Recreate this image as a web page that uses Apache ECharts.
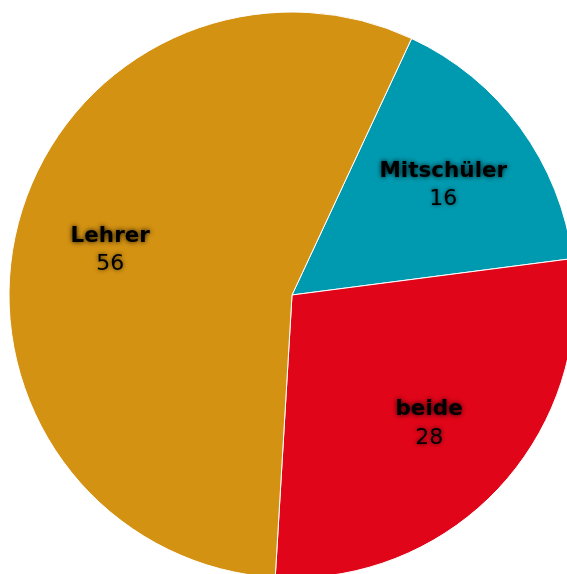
<!DOCTYPE html>
<html>
<head>
<meta charset="utf-8">
<script src="https://cdn.jsdelivr.net/npm/echarts@6/dist/echarts.min.js"></script>
<style>
  html, body { margin: 0; padding: 0; background: #fff; }
  #chart { width: 567px; height: 574px; }
</style>
</head>
<body>
<div id="chart"></div>
<script>
  var categories = ['Mitschüler', 'beide', 'Lehrer'];
  var values = [16, 28, 56];
  var colorList = ['#009AB0', '#E10519', '#D49212'];

  var pieData = [];
  for (var i = 0; i < categories.length; i++) {
    pieData.push({ name: categories[i], value: values[i] });
  }

  var chart = echarts.init(document.getElementById('chart'));
  chart.setOption({
    backgroundColor: '#fff',
    animation: false,
    series: [{
      type: 'pie',
      radius: [0, 283],
      center: [292, 295],
      startAngle: 65,
      clockwise: true,
      color: colorList,
      label: { show: false },
      labelLine: { show: false },
      itemStyle: { borderColor: '#fff', borderWidth: 1 },
      data: pieData
    }, {
      // transparent ring only used to place labels further out
      type: 'pie',
      radius: [86, 283],
      center: [292, 296],
      startAngle: 65,
      clockwise: true,
      silent: true,
      itemStyle: { color: 'rgba(0,0,0,0)', borderWidth: 0 },
      labelLine: { show: false },
      label: {
        show: true,
        position: 'inside',
        formatter: '{n|{b}}\n{v|{c}}',
        rich: {
          n: {
            fontFamily: 'DejaVu Sans',
            fontSize: 21.5,
            fontWeight: 'bold',
            color: '#000',
            lineHeight: 28,
            textShadowColor: 'rgba(0,0,0,0.9)',
            textShadowBlur: 5
          },
          v: {
            fontFamily: 'DejaVu Sans',
            fontSize: 22,
            color: '#000',
            lineHeight: 28,
            textShadowColor: 'rgba(0,0,0,0.7)',
            textShadowBlur: 4
          }
        }
      },
      data: pieData
    }]
  });
</script>
</body>
</html>
